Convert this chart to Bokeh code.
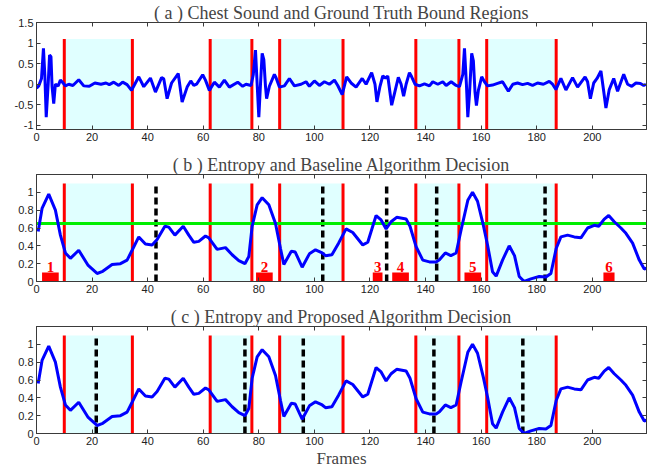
from bokeh.plotting import figure
from bokeh.layouts import column
from bokeh.models import Range1d, LinearAxis, FixedTicker, CustomJSTickFormatter
from bokeh.core.properties import value
from bokeh.embed import file_html
from bokeh.resources import INLINE

# ---------------- data ----------------
titles = ["( a ) Chest Sound and Ground Truth Bound Regions",
          "( b ) Entropy and Baseline Algorithm Decision",
          "( c ) Entropy and Proposed Algorithm Decision"]
x_label = "Frames"
x_ticks = [0, 20, 40, 60, 80, 100, 120, 140, 160, 180, 200]
ya_ticks = [-1, -0.5, 0, 0.5, 1, 1.5]
ya_labels = ["-1", "-0.5", "0", "0.5", "1", "1.5"]
yb_ticks = [0, 0.2, 0.4, 0.6, 0.8, 1]
yb_labels = ["0", "0.2", "0.4", "0.6", "0.8", "1"]

wave_x = [0, 0.8, 1.8, 2.5, 3.0, 3.5, 4.2, 4.7, 5.2, 5.6, 6.2, 6.8, 7.8, 8.6, 9.2, 10.4, 11.6, 13.1,
          15.2, 17, 19, 21, 23.2, 25, 26.2, 27.8, 29.6, 31, 32.6, 34.2, 35.6, 36.8, 38.6, 41, 42.8,
          45, 45.8, 47, 48.6, 51, 52.4, 54.2, 55.5, 56.6, 57.6, 59.8, 60.8, 62.2, 64, 65.8, 67.6,
          69.4, 72.4, 74.2, 75.4, 77.2, 78, 78.8, 79.4, 80, 80.6, 81.2, 81.8, 82.4, 82.8, 83.8, 85.6,
          86.2, 87.4, 89.2, 91, 92.8, 95.2, 97, 98.2, 100, 101.8, 103.6, 105.4, 107.2, 108.4, 110,
          111.6, 113.2, 115, 117.2, 118.6, 120.6, 121.8, 122.5, 123.6, 124.6, 125.6, 126.4, 127.8,
          128.8, 130.2, 131.2, 132.1, 133, 134.2, 135, 136.2, 137.8, 139.6, 141.4, 142.6, 144.4,
          146.2, 147.4, 149.2, 151, 152.2, 153.4, 154, 154.7, 155.2, 155.8, 156.6, 157.2, 157.8,
          158.3, 159, 160.2, 161.2, 162.3, 164.1, 165.9, 167.7, 169.8, 171.4, 173.1, 174.9, 176.7,
          178.5, 180.3, 182.4, 184.5, 185.7, 186.9, 188.7, 190.5, 192.9, 194.7, 197.4, 198.3,
          199.3, 200.5, 201.7, 203.1, 204.1, 204.9, 206.1, 207.7, 209.1, 211.3, 212.7, 214.2,
          215.7, 217.3, 218.5, 219.3]
wave_y = [-0.1, -0.04, 0.14, 0.87, 0.22, -0.8, 0.0, 0.71, 0.67, -0.05, -0.47, 0.0, -0.04, 0.10, 0.06,
          -0.04, 0.0, -0.03, 0.11, -0.04, -0.05, 0.03, 0.0, 0.03, -0.01, 0.05, -0.03, 0.05, -0.01,
          -0.15, 0.03, 0.18, -0.06, 0.15, -0.19, 0.16, 0.13, -0.35, 0.03, 0.26, -0.43, -0.07, 0.08,
          -0.03, 0.0, 0.23, 0.10, -0.15, 0.05, -0.07, 0.10, -0.07, 0.05, -0.05, 0.0, -0.03, 0.23,
          0.83, 0.0, -0.8, 0.0, 0.75, 0.6, -0.05, -0.35, -0.05, 0.24, 0.16, -0.07, -0.04, 0.14,
          -0.04, 0.0, 0.06, -0.05, 0.08, -0.03, 0.06, 0.0, 0.10, -0.03, -0.25, 0.18, 0.03, -0.07,
          0.14, 0.0, 0.28, 0.0, -0.43, -0.05, 0.20, 0.15, 0.20, -0.51, -0.23, 0.17, 0.0, -0.29, 0.0,
          0.28, 0.18, 0.0, -0.04, 0.01, -0.04, 0.06, 0.0, 0.06, -0.03, 0.06, -0.03, -0.06, 0.24,
          0.87, 0.0, -0.8, -0.24, 0.75, 0.57, -0.2, -0.52, -0.15, 0.18, 0.06, -0.04, -0.02, 0.02,
          0.06, -0.17, 0.0, 0.03, -0.01, 0.02, -0.03, 0.03, 0.0, 0.07, 0.0, -0.13, 0.14, -0.14,
          0.16, -0.07, 0.18, 0.06, -0.35, 0.03, 0.14, 0.32, -0.17, -0.58, -0.13, 0.14, -0.17, 0.24,
          0.0, -0.05, 0.03, 0.02, -0.03, 0.0]

ent_x = [0.6, 2, 4.4, 6.8, 8.6, 10.4, 12.2, 15.2, 18.6, 21.8, 23.6, 27.2, 30.2, 32.6, 34.4, 36.8,
         39.2, 41.6, 43.4, 46.2, 47.6, 49.8, 52.8, 54.8, 56.6, 58.4, 60.8, 62, 65, 68, 70.4, 72.8,
         75, 76.4, 77.6, 79.4, 81.2, 83.6, 86, 87.8, 89, 91.7, 93.1, 95.6, 98.2, 100.4, 102.8, 104,
         106.3, 108.7, 111.4, 113.8, 117.4, 119.2, 122.2, 124, 125.8, 127.6, 129.6, 133, 134.4,
         136.6, 139, 141.4, 143.8, 145, 147.1, 149.1, 151, 152.8, 155.2, 156.9, 158.7, 160.8,
         162.3, 164.1, 165.4, 167.7, 170.1, 172, 173.7, 175.5, 177.9, 180.9, 183.3, 185.1, 187,
         188.7, 191.1, 193.5, 195.9, 198.3, 200.7, 202.3, 204.3, 205.9, 207.9, 210.3, 212.1,
         214.5, 216.9, 218.7, 219.5]
ent_y = [0.56, 0.82, 0.98, 0.80, 0.52, 0.32, 0.26, 0.35, 0.18, 0.09, 0.11, 0.19, 0.20, 0.24, 0.35,
         0.50, 0.42, 0.41, 0.47, 0.62, 0.61, 0.52, 0.62, 0.52, 0.44, 0.45, 0.51, 0.49, 0.36, 0.38,
         0.30, 0.235, 0.20, 0.28, 0.62, 0.86, 0.94, 0.86, 0.65, 0.37, 0.19, 0.34, 0.33, 0.16, 0.31,
         0.355, 0.32, 0.29, 0.30, 0.43, 0.59, 0.55, 0.41, 0.44, 0.74, 0.69, 0.59, 0.67, 0.72, 0.70,
         0.62, 0.39, 0.24, 0.22, 0.22, 0.245, 0.32, 0.29, 0.32, 0.58, 0.91, 1.0, 0.90, 0.63, 0.41,
         0.11, 0.06, 0.24, 0.40, 0.29, 0.056, 0.0, 0.03, 0.056, 0.05, 0.09, 0.37, 0.50, 0.52, 0.50,
         0.49, 0.60, 0.63, 0.62, 0.70, 0.74, 0.67, 0.60, 0.54, 0.43, 0.24, 0.14, 0.15]

region_start = [10, 62.5, 87.5, 136.5, 162]
region_end = [34.5, 77.5, 110.3, 152, 187]
bound_lines = [10, 34.5, 62.5, 77.5, 87.5, 110.3, 136.5, 152, 162, 187]
region_top = 1.1
threshold = 0.65
baseline_dec = [43, 103, 126, 144, 183]
proposed_dec = [21.5, 75, 96, 143, 175]
det_start = [2, 79, 121, 128, 154, 204]
det_end = [8, 85, 124.5, 134, 160, 208]
det_height = 0.1
det_labels = ["1", "2", "3", "4", "5", "6"]

# ---------------- styling ----------------
AX = "#3a3a3a"
TICK_FONT = "Liberation Sans"
SERIF = "Liberation Serif"
X_END = 219.5


def make_fig(title, y0, y1, yticks, ylabels, bottom, xlabel=None):
    p = figure(frame_width=610, frame_height=107, min_border_left=36, min_border_right=2,
               min_border_top=20, min_border_bottom=bottom,
               x_range=Range1d(0, X_END), y_range=Range1d(y0, y1),
               output_backend="svg", toolbar_location=None, title=title)
    p.title.text_font = SERIF
    p.title.text_font_size = "18px"
    p.title.text_font_style = "normal"
    p.title.align = "center"
    p.title.standoff = 0
    p.title.offset = 0
    p.grid.visible = False
    p.outline_line_color = AX
    p.background_fill_color = "white"
    bottom_ax = p.below[0]
    left_ax = p.left[0]
    top_ax = LinearAxis(formatter=CustomJSTickFormatter(code="return ''"))
    right_ax = LinearAxis(formatter=CustomJSTickFormatter(code="return ''"))
    p.add_layout(top_ax, "above")
    p.add_layout(right_ax, "right")
    for ax in [bottom_ax, top_ax]:
        ax.ticker = FixedTicker(ticks=x_ticks)
    for ax in [left_ax, right_ax]:
        ax.ticker = FixedTicker(ticks=yticks)
    left_ax.major_label_overrides = {t: l for t, l in zip(yticks, ylabels)}
    for ax in [bottom_ax, left_ax, top_ax, right_ax]:
        ax.major_tick_in = 4
        ax.major_tick_out = 0
        ax.minor_tick_line_color = None
        ax.axis_line_color = AX
        ax.major_tick_line_color = AX
        ax.major_label_text_font = TICK_FONT
        ax.major_label_text_font_size = "11px"
        ax.major_label_text_color = "#222222"
        ax.major_label_standoff = 3
    for ax in [top_ax, right_ax]:
        ax.major_label_standoff = 0
        ax.major_label_text_font_size = "0px"
    if xlabel:
        bottom_ax.axis_label = xlabel
        bottom_ax.axis_label_text_font = SERIF
        bottom_ax.axis_label_text_font_size = "17px"
        bottom_ax.axis_label_text_font_style = "normal"
        bottom_ax.axis_label_standoff = 1
    # ground-truth regions
    p.quad(left=region_start, right=region_end, bottom=y0, top=region_top,
           fill_color="#E0FFFF", line_color=None)
    p.segment(x0=bound_lines, x1=bound_lines, y0=y0, y1=region_top,
              line_color="#FF0000", line_width=3)
    return p


pa = make_fig(titles[0], -1.1, 1.5, ya_ticks, ya_labels, 23)
pa.line(wave_x, wave_y, line_color="#0000FF", line_width=3)

pb = make_fig(titles[1], 0, 1.2, yb_ticks, yb_labels, 23)
pb.segment(x0=baseline_dec, x1=baseline_dec, y0=0, y1=region_top,
           line_color="black", line_width=3.5, line_dash="7 4")
pb.line([0, X_END], [threshold, threshold], line_color="#00EE00", line_width=3)
pb.line(ent_x, ent_y, line_color="#0000FF", line_width=3)
pb.quad(left=det_start, right=det_end, bottom=0, top=det_height,
        fill_color="#FF0000", line_color=None)
det_mid = [(a + b) / 2 for a, b in zip(det_start, det_end)]
pb.text(x=det_mid, y=[det_height + 0.01] * len(det_mid), text=det_labels,
        text_font=value(SERIF), text_font_style="bold", text_color="#FF0000",
        text_font_size="15px", text_align="center", text_baseline="bottom")

pc = make_fig(titles[2], 0, 1.2, yb_ticks, yb_labels, 31, xlabel=x_label)
pc.segment(x0=proposed_dec, x1=proposed_dec, y0=0, y1=region_top,
           line_color="black", line_width=3.5, line_dash="7 4")
pc.line(ent_x, ent_y, line_color="#0000FF", line_width=3)

layout = column(pa, pb, pc, spacing=0)
open("out.html", "w").write(file_html(layout, INLINE))
